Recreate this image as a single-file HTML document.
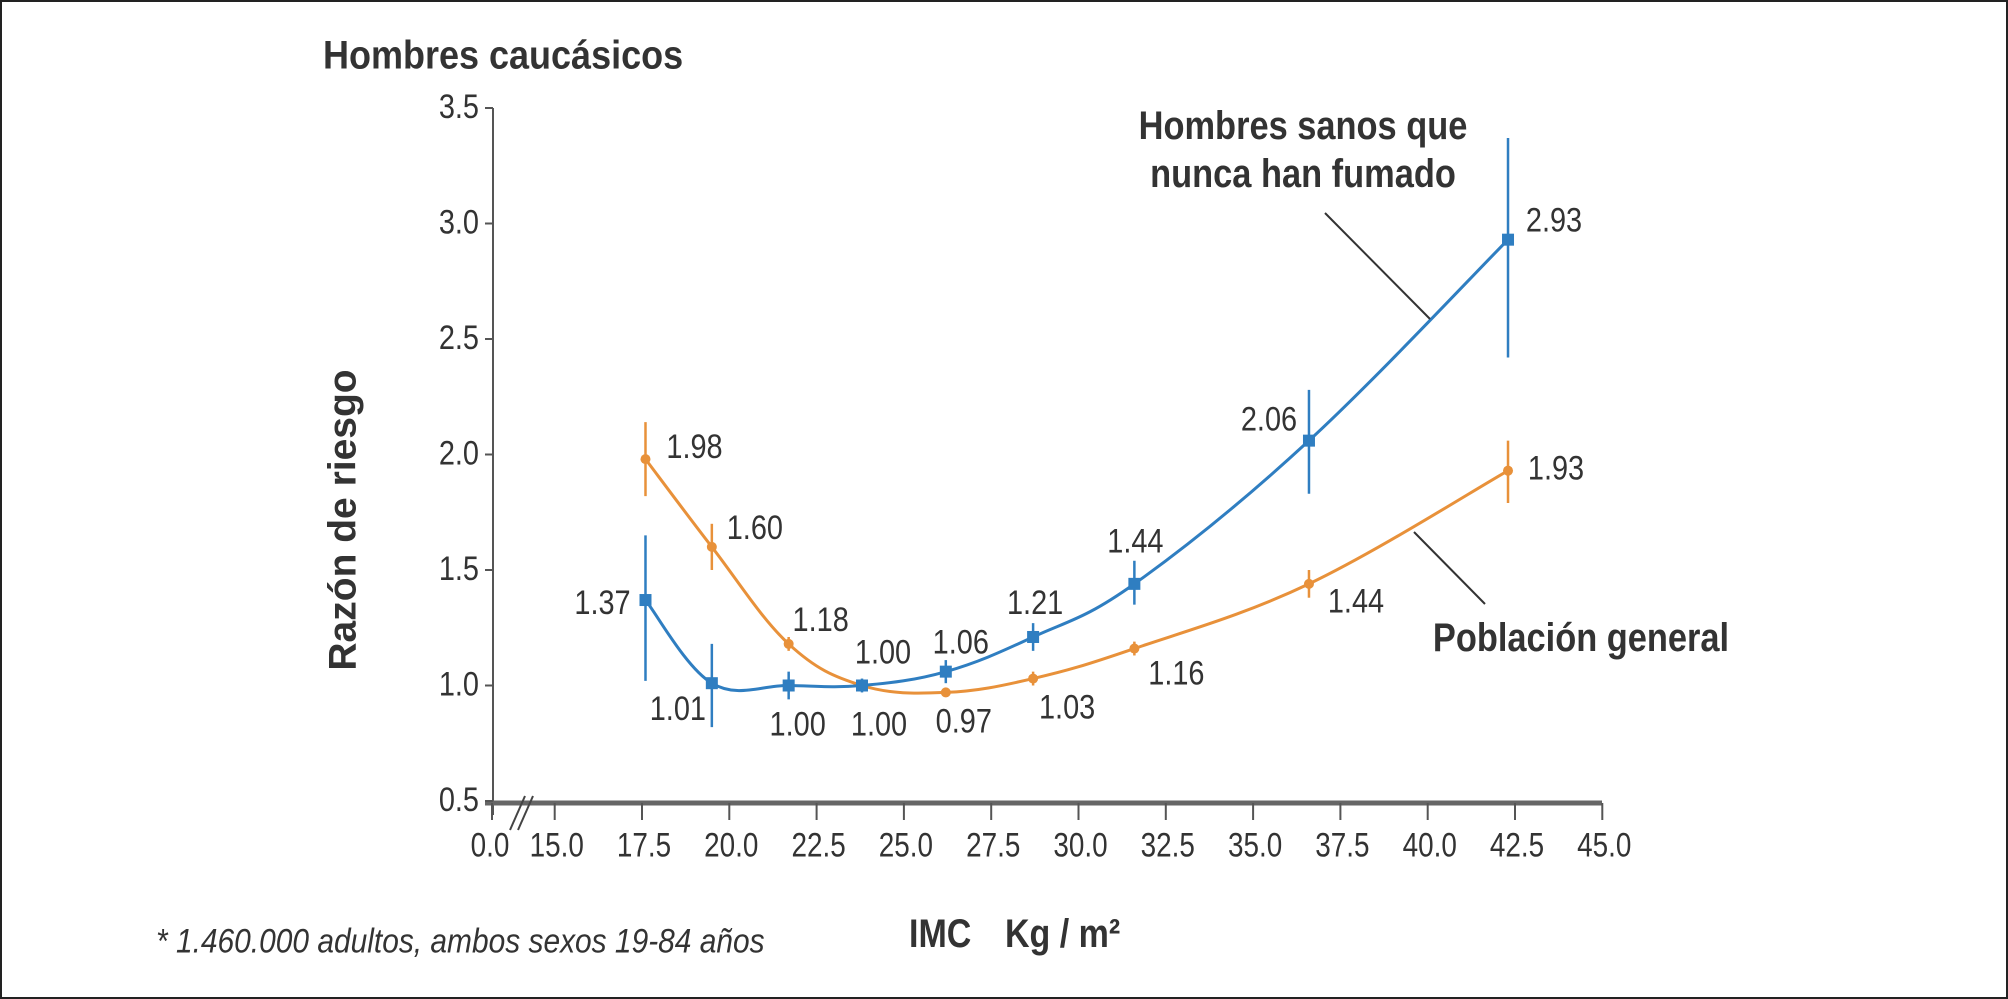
<!DOCTYPE html>
<html><head><meta charset="utf-8"><style>
html,body{margin:0;padding:0;background:#fff}
svg{display:block}
text{font-family:"Liberation Sans",sans-serif;fill:#333}
</style></head><body>
<svg id="chart" width="2008" height="999" viewBox="0 0 2008 999" xmlns="http://www.w3.org/2000/svg">
<rect x="1" y="1" width="2006" height="997" fill="#fff" stroke="#222" stroke-width="2"/>
<g id="g"></g>
</svg>
<script>
const xTicks=["0.0","15.0","17.5","20.0","22.5","25.0","27.5","30.0","32.5","35.0","37.5","40.0","42.5","45.0"];
const xTickVals=[null,15,17.5,20,22.5,25,27.5,30,32.5,35,37.5,40,42.5,45];
const yTicks=[0.5,1.0,1.5,2.0,2.5,3.0,3.5];
const bmi=[17.6,19.5,21.7,23.8,26.2,28.7,31.6,36.6,42.3];
const blueVals=[1.37,1.01,1.00,1.00,1.06,1.21,1.44,2.06,2.93];
const blueLo=[1.02,0.82,0.94,0.97,1.01,1.15,1.35,1.83,2.42];
const blueHi=[1.65,1.18,1.06,1.03,1.11,1.27,1.54,2.28,3.37];
const orangeVals=[1.98,1.60,1.18,1.00,0.97,1.03,1.16,1.44,1.93];
const orangeLo=[1.82,1.50,1.15,0.98,0.95,1.00,1.13,1.38,1.79];
const orangeHi=[2.14,1.70,1.21,1.02,0.99,1.06,1.19,1.50,2.06];
const blueOff=[[-43,2],[-34,25],[9,38],[17,38],[15,-30],[2,-35],[1,-43],[-40,-22],[46,-20]];
const orangeOff=[[49,-13],[43,-20],[32,-25],[21,-34],[18,28],[34,28],[42,24],[47,17],[48,-3]];
const X=v=>642+(v-17.5)*34.92, Y=v=>801-(v-0.5)*231;
const NS="http://www.w3.org/2000/svg", g=document.getElementById('g');
function el(t,a,p){const e=document.createElementNS(NS,t);for(const k in a)e.setAttribute(k,a[k]);(p||g).appendChild(e);return e;}
function txt(s,x,y,size,opts){opts=opts||{};const e=el('text',{x:0,y:0,'font-size':size,'text-anchor':opts.anchor||'middle','dominant-baseline':'central','font-weight':opts.bold?'bold':'normal','font-style':opts.italic?'italic':'normal',transform:`translate(${x},${y}) scale(${opts.sx||0.8},1)`+(opts.rot?` rotate(${opts.rot})`:'')});e.textContent=s;if(opts.fill)e.setAttribute('fill',opts.fill);return e;}
let e=el('line',{x1:493,y1:108,x2:493,y2:815,stroke:'#555','stroke-width':2});

e=el('line',{x1:485,y1:803,x2:1602,y2:803,stroke:'#666','stroke-width':5});

el('line',{x1:510,y1:830,x2:525,y2:796,stroke:'#444','stroke-width':2});
el('line',{x1:518,y1:830,x2:533,y2:796,stroke:'#444','stroke-width':2});
yTicks.forEach(v=>{el('line',{x1:485,y1:Y(v),x2:493,y2:Y(v),stroke:'#555','stroke-width':2});
 e=txt(v.toFixed(1),479,Y(v)-2,34,{anchor:'end',sx:0.85});});
xTicks.forEach((s,i)=>{const x=i==0?492:X(xTickVals[i]);el('line',{x1:x,y1:803,x2:x,y2:820,stroke:'#555','stroke-width':2});
 e=txt(s,i==0?490:x+2,845,34,{sx:0.82});});
function curve(vals,color,name){const p=bmi.map((b,i)=>[X(b),Y(vals[i])]);let d=`M${p[0][0]},${p[0][1]}`;
 for(let i=0;i<p.length-1;i++){const p0=p[i-1]||p[i],p1=p[i],p2=p[i+1],p3=p[i+2]||p2;const t=0.18;
  d+=` C${p1[0]+(p2[0]-p0[0])*t},${p1[1]+(p2[1]-p0[1])*t} ${p2[0]-(p3[0]-p1[0])*t},${p2[1]-(p3[1]-p1[1])*t} ${p2[0]},${p2[1]}`;}
 const c=el('path',{d:d,fill:'none',stroke:color,'stroke-width':3});}
function series(vals,lo,hi,off,color,sq,name){
 curve(vals,color,name+'-line');
 bmi.forEach((b,i)=>{const x=X(b),y=Y(vals[i]);
  let m=el('line',{x1:x,y1:Y(lo[i]),x2:x,y2:Y(hi[i]),stroke:color,'stroke-width':2.5});
  
  m=sq?el('rect',{x:x-6,y:y-6,width:12,height:12,fill:color}):el('circle',{cx:x,cy:y,r:5,fill:color});
  
  m=txt(vals[i].toFixed(2),x+off[i][0],y+off[i][1],34,{sx:0.85});
  });}
series(orangeVals,orangeLo,orangeHi,orangeOff,'#e8913a',false,'general-population');
series(blueVals,blueLo,blueHi,blueOff,'#2f7ec1',true,'healthy-nonsmokers');
e=el('line',{x1:1325,y1:213,x2:1430,y2:319,stroke:'#333','stroke-width':2});
e=el('line',{x1:1414,y1:532,x2:1485,y2:604,stroke:'#333','stroke-width':2});
e=txt('Hombres sanos que',1303,125,40,{bold:true,fill:'#111',sx:0.86});
e=txt('nunca han fumado',1303,173,40,{bold:true,fill:'#111',sx:0.86});
e=txt('Población general',1581,637,40,{bold:true,fill:'#111',sx:0.86});
e=txt('Hombres caucásicos',323,56,40,{anchor:'start',bold:true,fill:'#111',sx:0.9});
e=txt('Razón de riesgo',343,520,39,{bold:true,fill:'#111',sx:1,rot:-90});
e=txt('IMC',909,933,40,{anchor:'start',bold:true,fill:'#111',sx:0.85});
e=txt('Kg / m²',1005,933,40,{anchor:'start',bold:true,fill:'#111',sx:0.85});
e=txt('* 1.460.000 adultos, ambos sexos 19-84 años',156,941,34,{anchor:'start',italic:true,fill:'#444',sx:0.88});
</script>
</body></html>
